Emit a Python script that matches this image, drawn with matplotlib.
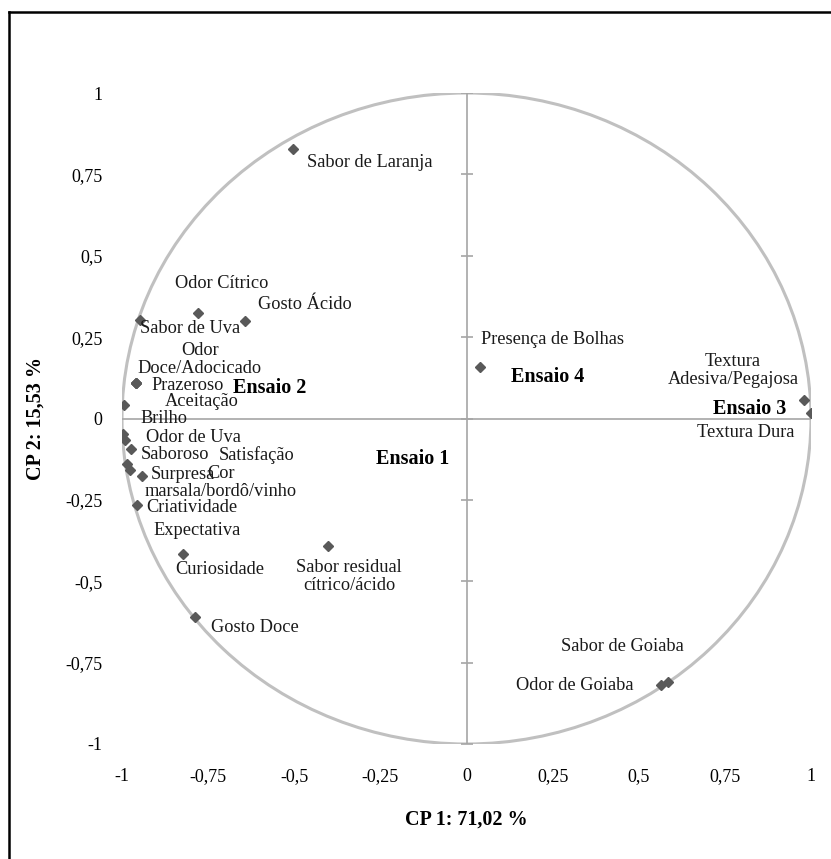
import matplotlib.pyplot as plt
from matplotlib.patches import Circle
from matplotlib.lines import Line2D

plt.rcParams['font.family'] = ['Liberation Serif', 'DejaVu Serif']

# variable loadings on CP1 / CP2
names = ['Sabor de Laranja', 'Odor Cítrico', 'Gosto Ácido', 'Sabor de Uva',
         'Odor\nDoce/Adocicado', 'Prazeroso', 'Aceitação', 'Brilho',
         'Odor de Uva', 'Satisfação', 'Saboroso', 'Cor\nmarsala/bordô/vinho',
         'Surpresa', 'Expectativa', 'Criatividade', 'Curiosidade',
         'Sabor residual\ncítrico/ácido', 'Gosto Doce', 'Presença de Bolhas',
         'Textura\nAdesiva/Pegajosa', 'Textura Dura', 'Sabor de Goiaba',
         'Odor de Goiaba']
cp1 = [-0.504, -0.780, -0.643, -0.948, -0.960, -0.960, -0.960, -0.993,
       -0.996, -0.991, -0.975, -0.986, -0.977, -0.943, -0.956, -0.822,
       -0.402, -0.788, 0.039, 0.980, 1.000, 0.585, 0.565]
cp2 = [0.829, 0.323, 0.299, 0.302, 0.108, 0.108, 0.108, 0.040,
       -0.049, -0.065, -0.095, -0.141, -0.157, -0.178, -0.267, -0.415,
       -0.393, -0.611, 0.157, 0.058, 0.018, -0.811, -0.820]

# supplementary samples (labels only)
ensaios = ['Ensaio 1', 'Ensaio 2', 'Ensaio 3', 'Ensaio 4']
ens_x = [-0.263, -0.678, 0.715, 0.129]
ens_y = [-0.123, 0.095, 0.028, 0.126]

ticks = [-1, -0.75, -0.5, -0.25, 0, 0.25, 0.5, 0.75, 1]
tick_labels = ['-1', '-0,75', '-0,5', '-0,25', '0', '0,25', '0,5', '0,75', '1']

# label offsets in pixels (dx, dy) and alignment
offsets = [(14, -14, 'left'), (-23, 30, 'left'), (13, 17, 'left'), (0, -8, 'left'),
           (64, 24, 'center'), (16, -2, 'left'), (29, -18, 'left'), (16, -13, 'left'),
           (23, -3, 'left'), (94, -15, 'left'), (10, -5, 'left'), (94, -18, 'center'),
           (21, -5, 'left'), (12, -54, 'left'), (9, -2, 'left'), (-8, -16, 'left'),
           (21, -30, 'center'), (16, -10, 'left'), (1, 28, 'left'),
           (-71, 29, 'center'), (-114, -20, 'left'), (-107, 36, 'left'),
           (-145, 0, 'left')]

W, H = 831, 859
fig = plt.figure(figsize=(W / 100, H / 100), dpi=100)
ax = fig.add_axes([122 / W, (H - 744) / H, (811 - 122) / W, (744 - 93) / H])
ax.set_xlim(-1, 1)
ax.set_ylim(-1, 1)
for s in ax.spines.values():
    s.set_visible(False)

ax.add_patch(Circle((0, 0), 1, fill=False, ec='#c0c0c0', lw=2.2, zorder=1))
ax.axhline(0, color='#a6a6a6', lw=1.2, zorder=1)
ax.axvline(0, color='#a6a6a6', lw=1.2, zorder=1)
ax.plot([0] * len(ticks), ticks, ls='none', marker='_', ms=8, mew=1.2,
        color='#a6a6a6', zorder=1)

ax.set_xticks(ticks)
ax.set_xticklabels(tick_labels)
ax.set_yticks(ticks)
ax.set_yticklabels(tick_labels)
ax.tick_params(axis='both', length=0, labelsize=13)
ax.tick_params(axis='x', pad=17)
ax.tick_params(axis='y', pad=14)

ax.plot(cp1, cp2, ls='none', marker='D', ms=5.5, color='#595959', zorder=3)

for n, x, y, (dx, dy, ha) in zip(names, cp1, cp2, offsets):
    ax.annotate(n, (x, y), xytext=(dx, dy), textcoords='offset pixels',
                ha=ha, va='center', fontsize=13.2, linespacing=1.1,
                multialignment='center', color='#1a1a1a')

for n, x, y in zip(ensaios, ens_x, ens_y):
    ax.text(x, y, n, ha='left', va='center', fontsize=14.5, fontweight='bold')

ax.set_xlabel('CP 1: 71,02 %', fontsize=14.5, fontweight='bold', labelpad=18)
ax.set_ylabel('CP 2: 15,53 %', fontsize=14.5, fontweight='bold', labelpad=14)

# outer frame (only left and top edges visible)
fig.add_artist(Line2D([9 / W, 9 / W], [0, 1 - 12 / H], color='black', lw=1.8))
fig.add_artist(Line2D([9 / W, 1], [1 - 12 / H, 1 - 12 / H], color='black', lw=1.8))

fig.savefig('out.png', dpi=100)
